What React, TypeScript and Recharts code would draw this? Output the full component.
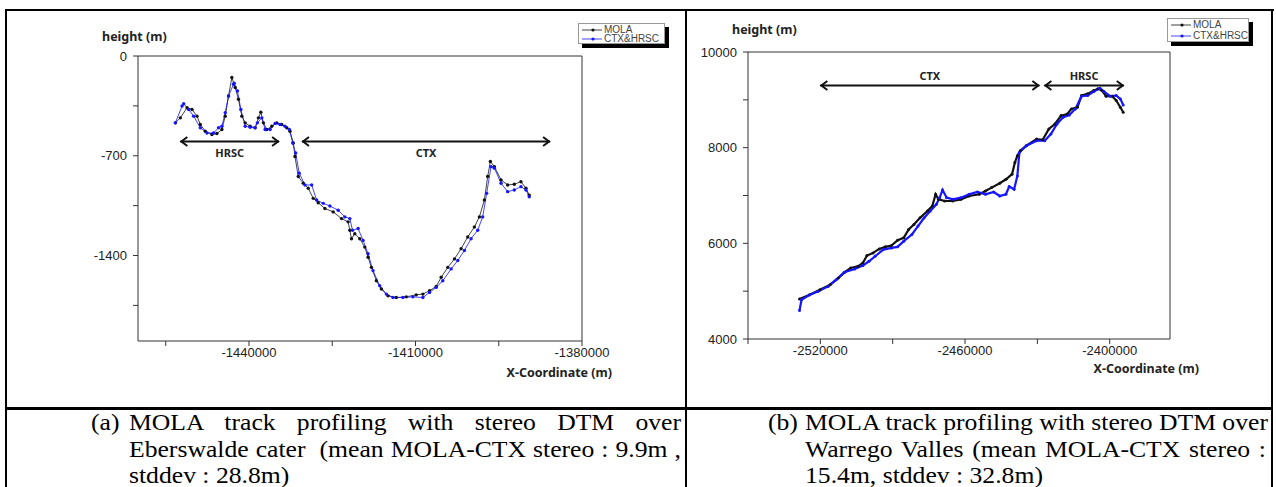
import React from 'react';
import { LineChart, Line, XAxis, YAxis, ReferenceLine, Legend } from 'recharts';

const SERIES_NAMES = ['MOLA', 'CTX&HRSC'];
const SERIES_COLORS = ['#111111', '#1515ff'];

// (a) Eberswalde crater profile
const A_MOLA_X = [
  -1453265, -1452370, -1451160, -1450270, -1449370, -1448775, -1447880, -1446680, -1445780, -1444880,
  -1444285, -1443690, -1443090, -1442490, -1441900, -1441290, -1440690, -1439795, -1438900, -1438305,
  -1437870, -1437405, -1436800, -1435900, -1435000, -1434100, -1433200, -1432610, -1432010, -1431715,
  -1431120, -1430220, -1429325, -1428425, -1427530, -1426325, -1424830, -1423330, -1422140, -1421835,
  -1421535, -1420935, -1420040, -1419140, -1418545, -1417945, -1417050, -1416150, -1414955, -1413460,
  -1411665, -1409870, -1408670, -1407470, -1406270, -1405370, -1404180, -1402980, -1401780, -1400590,
  -1399390, -1398490, -1397590, -1396995, -1396510, -1395790, -1394590, -1393400, -1392200, -1391000,
  -1390100, -1389510,
];
const A_MOLA_Y = [
  -469, -434, -363, -375, -422, -481, -528, -551, -544, -516,
  -422, -281, -151, -221, -304, -422, -469, -493, -504, -434,
  -394, -469, -516, -493, -469, -481, -504, -528, -610, -705,
  -846, -893, -928, -999, -1030, -1070, -1094, -1141, -1164, -1223,
  -1282, -1247, -1282, -1341, -1412, -1483, -1577, -1635, -1683, -1695,
  -1690, -1676, -1671, -1647, -1617, -1553, -1483, -1424, -1352, -1270,
  -1200, -1129, -1011, -846, -740, -776, -870, -905, -900, -882,
  -928, -976,
];
const A_CTX_X = [
  -1453265, -1452060, -1451770, -1450870, -1449980, -1448775, -1447570, -1446385, -1445490, -1444880,
  -1444285, -1443690, -1442790, -1442670, -1442075, -1441470, -1440690, -1439795, -1438900, -1438490,
  -1437690, -1437100, -1436200, -1435305, -1434410, -1433510, -1432735, -1432130, -1431595, -1430950,
  -1429920, -1428710, -1427815, -1426620, -1425425, -1423930, -1422735, -1421835, -1421350, -1420340,
  -1419445, -1418545, -1417650, -1416450, -1415250, -1414060, -1412265, -1410470, -1408670, -1407470,
  -1406270, -1405080, -1403580, -1402385, -1401190, -1399990, -1398790, -1397895, -1397175, -1396390,
  -1395790, -1394590, -1393400, -1392200, -1391000, -1390100, -1389510,
];
const A_CTX_Y = [
  -469, -351, -335, -375, -422, -504, -540, -540, -504, -493,
  -398, -281, -198, -191, -245, -375, -493, -500, -504, -469,
  -434, -516, -516, -474, -481, -493, -516, -611, -681, -822,
  -905, -905, -1011, -1034, -1053, -1082, -1129, -1141, -1223, -1211,
  -1294, -1388, -1506, -1612, -1671, -1695, -1695, -1690, -1695, -1659,
  -1624, -1577, -1494, -1435, -1365, -1282, -1223, -1129, -964, -776,
  -787, -893, -952, -940, -917, -940, -988,
];
const A_X_TICKS = [-1455000, -1440000, -1425000, -1410000, -1395000, -1380000];
const A_X_LABELED = [-1440000, -1410000, -1380000];
const A_Y_TICKS = [-1750, -1400, -1050, -700, -350, 0];
const A_Y_LABELED = [0, -700, -1400];
const A_SPANS = [
  { name: 'HRSC', from: -1452370, to: -1434580 },
  { name: 'CTX', from: -1430450, to: -1385750 },
];
const A_SPAN_Y = -600;

// (b) Warrego Valles profile
const B_MOLA_X = [
  -2528645, -2524400, -2520170, -2515930, -2512540, -2510000, -2507455, -2504400, -2502370, -2500670,
  -2498130, -2495590, -2493050, -2490500, -2487960, -2485420, -2483380, -2481200, -2478640, -2475590,
  -2473560, -2472200, -2471010, -2468460, -2465100, -2461700, -2458300, -2454100, -2451520, -2448980,
  -2445600, -2443000, -2440500, -2439320, -2438300, -2437100, -2434570, -2430330, -2427790, -2425240,
  -2422710, -2420170, -2417600, -2415930, -2413400, -2411690, -2409150, -2406600, -2404900, -2403200,
  -2401520, -2398980, -2397280, -2395600, -2394400,
];
const B_MOLA_Y = [
  4834, 4925, 5030, 5135, 5275, 5394, 5485, 5520, 5590, 5744,
  5800, 5884, 5926, 5954, 6066, 6115, 6290, 6395, 6535, 6675,
  6780, 7025, 6920, 6885, 6885, 6920, 6990, 7025, 7095, 7165,
  7256, 7340, 7445, 7690, 7830, 7935, 8040, 8180, 8166, 8390,
  8495, 8670, 8705, 8810, 8845, 9090, 9125, 9195, 9230, 9195,
  9076, 9076, 8985, 8845, 8740,
];
const B_CTX_X = [
  -2528645, -2527800, -2524400, -2521000, -2516780, -2513390, -2510000, -2505760, -2502370, -2499830,
  -2497290, -2493900, -2490500, -2487960, -2485420, -2482030, -2479490, -2476950, -2474410, -2471870,
  -2470510, -2469320, -2467620, -2465080, -2461700, -2458300, -2454900, -2451520, -2448130, -2445590,
  -2443050, -2441690, -2439660, -2438300, -2437450, -2434570, -2430330, -2426940, -2424400, -2421860,
  -2419320, -2416780, -2414240, -2411690, -2409150, -2406600, -2404060, -2402360, -2399830, -2397280,
  -2395590, -2394400,
];
const B_CTX_Y = [
  4596, 4820, 4925, 4995, 5100, 5240, 5394, 5464, 5534, 5625,
  5730, 5870, 5905, 5926, 6045, 6185, 6360, 6535, 6675, 6815,
  6955, 7116, 6955, 6920, 6955, 7025, 7074, 7025, 7074, 6990,
  7025, 7186, 7130, 7410, 7900, 8040, 8145, 8145, 8285, 8495,
  8635, 8684, 8810, 9076, 9090, 9174, 9244, 9174, 9076, 9090,
  9020, 8894,
];
const B_X_TICKS = [-2550000, -2520000, -2490000, -2460000, -2430000, -2400000];
const B_X_LABELED = [-2520000, -2460000, -2400000];
const B_Y_TICKS = [4000, 5000, 6000, 7000, 8000, 9000, 10000];
const B_Y_LABELED = [4000, 6000, 8000, 10000];
const B_SPANS = [
  { name: 'CTX', from: -2520000, to: -2429170 },
  { name: 'HRSC', from: -2427080, to: -2394170 },
];
const B_SPAN_Y = 9300;

const CAPTION_A = [
  'MOLA track profiling with stereo DTM over',
  'Eberswalde cater\u00a0\u00a0(mean MOLA-CTX stereo : 9.9m ,',
  'stddev : 28.8m)',
];
const CAPTION_B = [
  'MOLA track profiling with stereo DTM over',
  'Warrego Valles (mean MOLA-CTX stereo :',
  '15.4m, stddev : 32.8m)',
];

const zip = (xs: number[], ys: number[]) => xs.map((x, i) => ({ x, y: ys[i] }));

const SANS = '"Liberation Sans", Arial, sans-serif';
const TITLE = '"Noto Sans", "Open Sans", sans-serif';
const SERIF = '"Liberation Serif", "Times New Roman", serif';

const tickStyle = { fontSize: 13, fill: '#222', fontFamily: SANS };

const spanShape = (text: string, dy: number) => (p: any) => {
  const { x1, y1, x2, y2 } = p;
  const h = 7;
  const w = 4.5;
  return (
    <g>
      <line x1={x1} y1={y1} x2={x2} y2={y2} stroke="#111" strokeWidth={2} />
      <polyline points={`${x1 + h},${y1 - w} ${x1 + 1},${y1} ${x1 + h},${y1 + w}`} fill="none" stroke="#111" strokeWidth={2} />
      <polyline points={`${x2 - h},${y2 - w} ${x2 - 1},${y2} ${x2 - h},${y2 + w}`} fill="none" stroke="#111" strokeWidth={2} />
      <text x={(x1 + x2) / 2} y={y1 + dy} textAnchor="middle" fontFamily={TITLE} fontWeight={700} fontSize={11} fill="#222">
        {text}
      </text>
    </g>
  );
};

const LegendBox = ({ width, height }: { width: number; height: number }) => (
  <div
    style={{
      width,
      height,
      boxSizing: 'border-box',
      border: '1px solid #999',
      background: '#fff',
      boxShadow: '4px 4px 0 #000',
      fontFamily: SANS,
      fontSize: 10,
      color: '#444',
      padding: '1px 0 0 2px',
      lineHeight: '10px',
    }}
  >
    {SERIES_NAMES.map((n, i) => (
      <div key={n} style={{ display: 'flex', alignItems: 'center', height: (height - 3) / 2 }}>
        <svg width={22} height={8} style={{ marginRight: 1 }}>
          <line x1={1} x2={21} y1={4} y2={4} stroke={SERIES_COLORS[i]} strokeWidth={0.8} />
          <circle cx={12} cy={4} r={1.6} fill={SERIES_COLORS[i]} />
        </svg>
        <span>{n}</span>
      </div>
    ))}
  </div>
);

interface PanelProps {
  left: number;
  width: number;
  margin: { top: number; right: number; bottom: number; left: number };
  yAxisWidth: number;
  xDomain: [number, number];
  yDomain: [number, number];
  xTicks: number[];
  xLabeled: number[];
  yTicks: number[];
  yLabeled: number[];
  series: { x: number; y: number }[][];
  lineWidth: number;
  dotR: number;
  spans: { name: string; from: number; to: number }[];
  spanY: number;
  spanDy: number;
  legendPos: { left: number; top: number; width: number; height: number };
}

function Panel(p: PanelProps) {
  return (
    <div style={{ position: 'absolute', left: p.left, top: 0 }}>
      <LineChart width={p.width} height={405} margin={p.margin}>
        <XAxis
          dataKey="x"
          type="number"
          domain={p.xDomain}
          ticks={p.xTicks}
          interval={0}
          allowDataOverflow
          tickFormatter={(v: number) => (p.xLabeled.includes(v) ? String(v) : '')}
          tick={tickStyle}
          tickSize={5}
          tickMargin={2}
          stroke="#333"
          height={30}
        />
        <XAxis
          xAxisId="top"
          orientation="top"
          type="number"
          domain={p.xDomain}
          ticks={p.xTicks}
          interval={0}
          allowDataOverflow
          mirror
          tick={false}
          tickSize={5}
          stroke="#333"
          height={1}
        />
        <YAxis
          dataKey="y"
          type="number"
          domain={p.yDomain}
          ticks={p.yTicks}
          interval={0}
          allowDataOverflow
          tickFormatter={(v: number) => (p.yLabeled.includes(v) ? String(v) : '')}
          tick={tickStyle}
          tickSize={5}
          tickMargin={6}
          stroke="#333"
          width={p.yAxisWidth}
        />
        <YAxis
          yAxisId="right"
          orientation="right"
          type="number"
          domain={p.yDomain}
          ticks={p.yTicks}
          allowDataOverflow
          tick={false}
          tickLine={false}
          stroke="#333"
          width={1}
        />
        {p.spans.map((s) => (
          <ReferenceLine
            key={s.name}
            segment={[
              { x: s.from, y: p.spanY },
              { x: s.to, y: p.spanY },
            ]}
            shape={spanShape(s.name, p.spanDy)}
          />
        ))}
        {p.series.map((d, i) => (
          <Line
            key={SERIES_NAMES[i]}
            name={SERIES_NAMES[i]}
            data={d}
            dataKey="y"
            type="linear"
            stroke={SERIES_COLORS[i]}
            strokeWidth={p.lineWidth}
            dot={{ r: p.dotR, fill: SERIES_COLORS[i], stroke: 'none' }}
            isAnimationActive={false}
          />
        ))}
        <Legend
          layout="horizontal"
          verticalAlign="middle"
          align="center"
          wrapperStyle={{ left: p.legendPos.left, top: p.legendPos.top, width: p.legendPos.width }}
          content={() => <LegendBox width={p.legendPos.width} height={p.legendPos.height} />}
        />
      </LineChart>
    </div>
  );
}

const label = (text: string, left: number, top: number, extra: React.CSSProperties = {}) => (
  <div
    style={{
      position: 'absolute',
      left,
      top,
      fontFamily: TITLE,
      fontWeight: 700,
      fontSize: 12.5,
      color: '#222',
      whiteSpace: 'nowrap',
      lineHeight: '16px',
      ...extra,
    }}
  >
    {text}
  </div>
);

// caption glyphs are a little wider than plain Times at this height
const CAP_STRETCH = 1.115;
const capFont = `23px/26.5px ${SERIF}`;

const captionLines = (tag: string, lines: string[], tagLeft: number, textLeft: number, textRight: number) => (
  <>
    <div
      style={{
        position: 'absolute',
        left: tagLeft,
        top: 410,
        font: capFont,
        color: '#000',
        transform: `scaleX(${CAP_STRETCH})`,
        transformOrigin: 'left top',
      }}
    >
      {tag}
    </div>
    {lines.map((l, i) => (
      <div
        key={i}
        style={{
          position: 'absolute',
          left: textLeft,
          width: (textRight - textLeft) / CAP_STRETCH,
          top: 410 + i * 26.5,
          font: capFont,
          color: '#000',
          whiteSpace: 'nowrap',
          textAlign: i < lines.length - 1 ? 'justify' : 'left',
          textAlignLast: i < lines.length - 1 ? 'justify' : 'left',
          transform: `scaleX(${CAP_STRETCH})`,
          transformOrigin: 'left top',
        }}
      >
        {l}
      </div>
    ))}
  </>
);

export default function App() {
  const rule = (s: React.CSSProperties) => <div style={{ position: 'absolute', background: '#000', ...s }} />;
  return (
    <div style={{ position: 'absolute', left: 0, top: 0, width: 1276, height: 487, background: '#fff', overflow: 'hidden' }}>
      <Panel
        left={0}
        width={686}
        margin={{ top: 56, right: 103, bottom: 34, left: 98 }}
        yAxisWidth={40}
        xDomain={[-1460000, -1380000]}
        yDomain={[-2000, 0]}
        xTicks={A_X_TICKS}
        xLabeled={A_X_LABELED}
        yTicks={A_Y_TICKS}
        yLabeled={A_Y_LABELED}
        series={[zip(A_MOLA_X, A_MOLA_Y), zip(A_CTX_X, A_CTX_Y)]}
        lineWidth={0.8}
        dotR={1.7}
        spans={A_SPANS}
        spanY={A_SPAN_Y}
        spanDy={15}
        legendPos={{ left: 578, top: 23, width: 87, height: 21 }}
      />
      <Panel
        left={686}
        width={590}
        margin={{ top: 52, right: 105, bottom: 36, left: 12 }}
        yAxisWidth={50}
        xDomain={[-2550000, -2375000]}
        yDomain={[4000, 10000]}
        xTicks={B_X_TICKS}
        xLabeled={B_X_LABELED}
        yTicks={B_Y_TICKS}
        yLabeled={B_Y_LABELED}
        series={[zip(B_MOLA_X, B_MOLA_Y), zip(B_CTX_X, B_CTX_Y)]}
        lineWidth={2.2}
        dotR={1.5}
        spans={B_SPANS}
        spanY={B_SPAN_Y}
        spanDy={-5}
        legendPos={{ left: 481, top: 18, width: 82, height: 24 }}
      />
      {label('height (m)', 102, 29)}
      {label('X-Coordinate (m)', 0, 365, { width: 612, textAlign: 'right' })}
      {label('height (m)', 732, 22)}
      {label('X-Coordinate (m)', 686, 361, { width: 513, textAlign: 'right' })}
      {captionLines('(a)', CAPTION_A, 91, 129, 681)}
      {captionLines('(b)', CAPTION_B, 768, 805, 1266)}
      {rule({ left: 5, top: 9, width: 1269, height: 2 })}
      {rule({ left: 5, top: 9, width: 2, height: 478 })}
      {rule({ left: 685, top: 9, width: 2, height: 478 })}
      {rule({ left: 1271, top: 9, width: 2, height: 478 })}
      {rule({ left: 5, top: 407, width: 1268, height: 3 })}
    </div>
  );
}
